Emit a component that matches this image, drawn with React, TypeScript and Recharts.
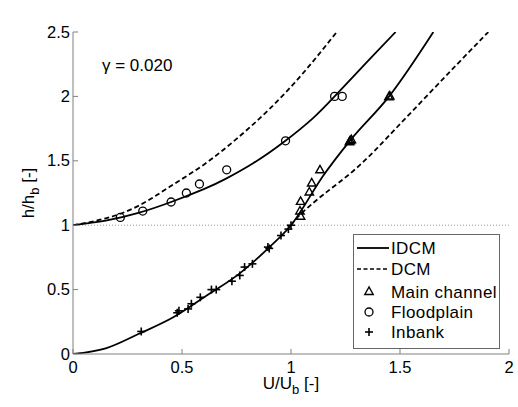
import { ComposedChart, Line, Scatter, XAxis, YAxis, ReferenceLine, Legend, Label } from 'recharts';

const FONT = '"Liberation Sans", Arial, Helvetica, sans-serif';
const AXIS_GREY = '#808080';

const xTicks = [0, 0.5, 1, 1.5, 2];
const yTicks = [0, 0.5, 1, 1.5, 2, 2.5];

const titleText = 'FCF s3';
const gammaText = 'γ = 0.020';
const legendNames = ['IDCM', 'DCM', 'Main channel', 'Floodplain', 'Inbank'];

// measured points, [U/Ub, h/hb]
const mainChannelPts = [
  [1.044, 1.07], [1.041, 1.11], [1.044, 1.185], [1.084, 1.258], [1.095, 1.328],
  [1.133, 1.43], [1.268, 1.648], [1.272, 1.656], [1.277, 1.664], [1.449, 1.996], [1.453, 2.003],
];
const floodplainPts = [
  [0.217, 1.06], [0.32, 1.11], [0.45, 1.18], [0.52, 1.25], [0.58, 1.32],
  [0.705, 1.43], [0.975, 1.655], [1.2, 2.0], [1.235, 2.0],
];
const inbankPts = [
  [0.313, 0.175], [0.478, 0.32], [0.486, 0.335], [0.528, 0.35], [0.543, 0.39],
  [0.584, 0.44], [0.635, 0.5], [0.657, 0.5], [0.729, 0.565], [0.765, 0.61],
  [0.787, 0.675], [0.823, 0.7], [0.894, 0.83], [0.9, 0.82], [0.954, 0.92],
  [0.988, 0.97], [1.0, 1.0],
];

// model curves
const idcmFloodplainPts = [
  [0, 1], [0.15, 1.035], [0.3, 1.095], [0.45, 1.18], [0.6, 1.28], [0.7, 1.36],
  [0.83, 1.485], [0.97, 1.65], [1.1, 1.83], [1.2, 2.0], [1.35, 2.27], [1.48, 2.5],
];
const idcmMainPts = [
  [0, 0], [0.15, 0.044], [0.3, 0.155], [0.46, 0.285], [0.61, 0.45], [0.765, 0.626],
  [0.895, 0.82], [1.0, 1.0], [1.15, 1.39], [1.27, 1.655], [1.45, 2.0], [1.653, 2.5],
];
const dcmFloodplainPts = [
  [0, 1], [0.15, 1.053], [0.3, 1.15], [0.445, 1.3], [0.6, 1.47], [0.75, 1.67],
  [0.9, 1.9], [1.055, 2.18], [1.21, 2.5],
];
const dcmMainPts = [
  [1.0, 1.0], [1.041, 1.08], [1.148, 1.237], [1.301, 1.444], [1.454, 1.703],
  [1.607, 1.975], [1.76, 2.246], [1.905, 2.5],
];

const rows = (pts: number[][]) => pts.map(([u, h]) => ({ u, h }));

function Triangle({ cx, cy }: any) {
  return (
    <polygon
      points={`${cx},${cy - 4.5} ${cx - 4.2},${cy + 3} ${cx + 4.2},${cy + 3}`}
      fill="none"
      stroke="#000"
      strokeWidth={1.4}
    />
  );
}

function Circle({ cx, cy }: any) {
  return <circle cx={cx} cy={cy} r={4} fill="none" stroke="#000" strokeWidth={1.3} />;
}

function Plus({ cx, cy }: any) {
  return (
    <g stroke="#000" strokeWidth={1.6}>
      <line x1={cx - 4} x2={cx + 4} y1={cy} y2={cy} />
      <line x1={cx} x2={cx} y1={cy - 4} y2={cy + 4} />
    </g>
  );
}

const txt = { fontFamily: FONT, fontSize: 17, fill: '#000' };
const tickTxt = { fontFamily: FONT, fontSize: 16.5, fill: '#000' };

function BottomTick({ x, y, payload }: any) {
  return (
    <g>
      <line x1={x} x2={x} y1={y} y2={y - 5} stroke={AXIS_GREY} />
      <text x={x} y={y + 19} textAnchor="middle" {...tickTxt}>
        {String(payload.value)}
      </text>
    </g>
  );
}

function LeftTick({ x, y, payload }: any) {
  return (
    <g>
      <line x1={x} x2={x + 5} y1={y} y2={y} stroke={AXIS_GREY} />
      <text x={x - 3} y={y + 5.5} textAnchor="end" {...tickTxt}>
        {String(payload.value)}
      </text>
    </g>
  );
}

function TopTick({ x, y }: any) {
  return <line x1={x} x2={x} y1={y} y2={y + 5} stroke={AXIS_GREY} />;
}

function RightTick({ x, y }: any) {
  return <line x1={x} x2={x - 5} y1={y} y2={y} stroke={AXIS_GREY} />;
}

function XLabel({ viewBox }: any) {
  const { x, y, width } = viewBox;
  return (
    <text x={x + width / 2} y={y + 35} textAnchor="middle" {...txt}>
      U/U
      <tspan dy={5} fontSize={13}>b</tspan>
      <tspan dy={-5}> [-]</tspan>
    </text>
  );
}

function YLabel({ viewBox }: any) {
  const { x, y, height } = viewBox;
  return (
    <text transform={`translate(${x + 1},${y + height / 2}) rotate(-90)`} textAnchor="middle" {...txt}>
      h/h
      <tspan dy={5} fontSize={13}>b</tspan>
      <tspan dy={-5}> [-]</tspan>
    </text>
  );
}

function Title({ viewBox }: any) {
  const { x, y, width } = viewBox;
  return (
    <text x={x + width / 2} y={y - 15} textAnchor="middle" {...txt}>
      {titleText}
    </text>
  );
}

function LegendBox() {
  const rowY = [14, 35, 57.5, 78, 98];
  return (
    <svg width={148} height={116} style={{ display: 'block' }}>
      <rect x={0.5} y={0.5} width={146} height={114} fill="#fff" stroke="#666" />
      <line x1={4} x2={36} y1={rowY[0]} y2={rowY[0]} stroke="#000" strokeWidth={1.8} />
      <line x1={4} x2={36} y1={rowY[1]} y2={rowY[1]} stroke="#000" strokeWidth={1.5} strokeDasharray="4 2.5" />
      <Triangle cx={16} cy={rowY[2]} />
      <Circle cx={16} cy={rowY[3]} />
      <Plus cx={16} cy={rowY[4]} />
      {legendNames.map((n, i) => (
        <text key={n} x={38} y={rowY[i] + 6} letterSpacing={0.4} {...txt}>
          {n}
        </text>
      ))}
    </svg>
  );
}

export default function App() {
  return (
    <div style={{ position: 'absolute', left: 0, top: 0, width: 518, height: 407, background: '#fff' }}>
      <ComposedChart width={518} height={407} margin={{ top: 32, right: 9, left: 33, bottom: 23 }}>
        <XAxis
          xAxisId="b"
          type="number"
          dataKey="u"
          domain={[0, 2]}
          ticks={xTicks}
          allowDataOverflow
          height={30}
          tickSize={0}
          tickMargin={0}
          tickLine={false}
          axisLine={{ stroke: AXIS_GREY }}
          tick={<BottomTick />}
        >
          <Label content={<XLabel />} />
        </XAxis>
        <XAxis
          xAxisId="t"
          orientation="top"
          type="number"
          dataKey="u"
          domain={[0, 2]}
          ticks={xTicks}
          allowDataOverflow
          height={0}
          tickSize={0}
          tickMargin={0}
          tickLine={false}
          axisLine={{ stroke: AXIS_GREY }}
          tick={<TopTick />}
        >
          <Label content={<Title />} />
        </XAxis>
        <YAxis
          yAxisId="l"
          type="number"
          dataKey="h"
          domain={[0, 2.5]}
          ticks={yTicks}
          allowDataOverflow
          width={40}
          tickSize={0}
          tickMargin={0}
          tickLine={false}
          axisLine={{ stroke: AXIS_GREY }}
          tick={<LeftTick />}
        >
          <Label content={<YLabel />} />
        </YAxis>
        <YAxis
          yAxisId="r"
          orientation="right"
          type="number"
          dataKey="h"
          domain={[0, 2.5]}
          ticks={yTicks}
          allowDataOverflow
          width={0}
          tickSize={0}
          tickMargin={0}
          tickLine={false}
          axisLine={{ stroke: AXIS_GREY }}
          tick={<RightTick />}
        />
        <ReferenceLine xAxisId="b" yAxisId="l" y={1} stroke="#999" strokeDasharray="1 2" />
        <Line xAxisId="b" yAxisId="l" data={rows(dcmFloodplainPts)} dataKey="h" type="natural" stroke="#000" strokeWidth={1.8} strokeDasharray="5 3" dot={false} isAnimationActive={false} />
        <Line xAxisId="b" yAxisId="l" data={rows(dcmMainPts)} dataKey="h" type="natural" stroke="#000" strokeWidth={1.8} strokeDasharray="5 3" dot={false} isAnimationActive={false} />
        <Line xAxisId="b" yAxisId="l" data={rows(idcmFloodplainPts)} dataKey="h" type="natural" stroke="#000" strokeWidth={1.8} dot={false} isAnimationActive={false} />
        <Line xAxisId="b" yAxisId="l" data={rows(idcmMainPts)} dataKey="h" type="monotone" stroke="#000" strokeWidth={1.8} dot={false} isAnimationActive={false} />
        <Scatter xAxisId="b" yAxisId="l" data={rows(mainChannelPts)} shape={<Triangle />} isAnimationActive={false} />
        <Scatter xAxisId="b" yAxisId="l" data={rows(floodplainPts)} shape={<Circle />} isAnimationActive={false} />
        <Scatter xAxisId="b" yAxisId="l" data={rows(inbankPts)} shape={<Plus />} isAnimationActive={false} />
        <text x={102} y={71} {...txt}>
          {gammaText}
        </text>
        <Legend
          content={<LegendBox />}
          layout="vertical"
          align="center"
          verticalAlign="middle"
          wrapperStyle={{ left: 353, top: 234, width: 148, height: 116 }}
        />
      </ComposedChart>
    </div>
  );
}
